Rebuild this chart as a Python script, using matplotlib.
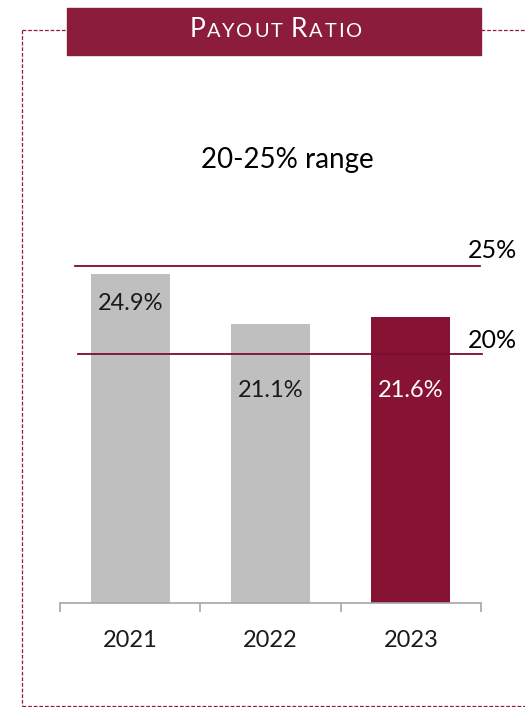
import matplotlib
matplotlib.use("Agg")
import matplotlib.pyplot as plt
from matplotlib.patches import Rectangle
from matplotlib.lines import Line2D

# data
years = ["2021", "2022", "2023"]
payout = [24.9, 21.1, 21.6]
label_y = [22.2, 15.6, 15.6]          # where the value labels sit
bar_colors = ["#BFBFBF", "#BFBFBF", "#861334"]
label_colors = ["#1A1A1A", "#1A1A1A", "white"]
range_levels = [25.5, 18.85]          # drawn positions of the range lines
range_labels = ["25%", "20%"]
subtitle = "20-25% range"
title_big, title_small = 19.0, 14.4

W, H = 525, 707
MAROON = "#8B1C3C"
plt.rcParams["font.family"] = ["Lato", "DejaVu Sans"]

fig = plt.figure(figsize=(W / 100, H / 100), dpi=100)

def fx(px):
    return px / W

def fy(py):
    return 1 - py / H

# scale: 13.22 px per percent point, baseline at y=603
ymax = 38.0
ax_top = 603 - ymax * 13.22
ax = fig.add_axes([fx(60), fy(603), fx(481) - fx(60), fy(ax_top) - fy(603)])
ax.set_xlim(-0.5, 2.5)
ax.set_ylim(0, ymax)

x = range(len(years))
ax.bar(x, payout, width=0.563, color=bar_colors, zorder=2)

for i, v in enumerate(payout):
    ax.text(i, label_y[i], f"{v:.1f}%", ha="center", va="baseline",
            fontsize=17, color=label_colors[i], zorder=4)

# range lines
ax.plot([-0.393, 2.49], [range_levels[0]] * 2, color="#7B0D30", lw=1.3, zorder=3,
        clip_on=False)
ax.plot([-0.372, 2.51], [range_levels[1]] * 2, color="#7B0D30", lw=1.3, zorder=3,
        clip_on=False)
ax.text(2.405, 26.1, range_labels[0], fontsize=18, ha="left", va="baseline")
ax.text(2.405, 19.3, range_labels[1], fontsize=18, ha="left", va="baseline")

ax.text(1.12, 32.9, subtitle, fontsize=20, ha="center", va="baseline")

# axis styling
for s in ["top", "right", "left"]:
    ax.spines[s].set_visible(False)
ax.spines["bottom"].set_color("#A6A6A6")
ax.spines["bottom"].set_linewidth(1.2)
ax.set_yticks([])
ax.set_xticks(list(x))
ax.set_xticklabels(years, fontsize=17, color="#1A1A1A")
ax.tick_params(axis="x", which="major", length=0, pad=19.5)
ax.set_xticks([-0.5, 0.5, 1.5, 2.5], minor=True)
ax.tick_params(axis="x", which="minor", length=6.5, width=1.2, color="#A6A6A6")

# dashed frame
dash = dict(color=MAROON, lw=0.9, ls=(0, (3, 1.5)), transform=fig.transFigure)
fig.add_artist(Line2D([fx(22), fx(67)], [fy(30), fy(30)], **dash))
fig.add_artist(Line2D([fx(481), fx(525)], [fy(30), fy(30)], **dash))
fig.add_artist(Line2D([fx(22), fx(22)], [fy(30), fy(705.5)], **dash))
fig.add_artist(Line2D([fx(22), fx(525)], [fy(705.5), fy(705.5)], **dash))

# title box
fig.add_artist(Rectangle((fx(67), fy(55.3)), fx(481) - fx(67), fy(8) - fy(55.3),
                         color=MAROON, transform=fig.transFigure, zorder=5))

# small caps title, placed letter by letter with a bit of tracking
chars = [("P", title_big)] + [(c, title_small) for c in "AYOUT"] + [(" ", title_small)] \
    + [("R", title_big)] + [(c, title_small) for c in "ATIO"]
tracking = 1.8
fig.canvas.draw()
renderer = fig.canvas.get_renderer()
texts, widths = [], []
for c, size in chars:
    t = fig.text(0, fy(37), c, fontsize=size, color="white", ha="left",
                 va="baseline", zorder=6)
    texts.append(t)
    if c == " ":
        widths.append(size * 0.35)
    else:
        widths.append(t.get_window_extent(renderer).width)
total = sum(widths) + tracking * (len(chars) - 1)
start = 275.5 - total / 2
for t, w in zip(texts, widths):
    t.set_x(fx(start))
    start += w + tracking

fig.savefig("out.png", dpi=100)
